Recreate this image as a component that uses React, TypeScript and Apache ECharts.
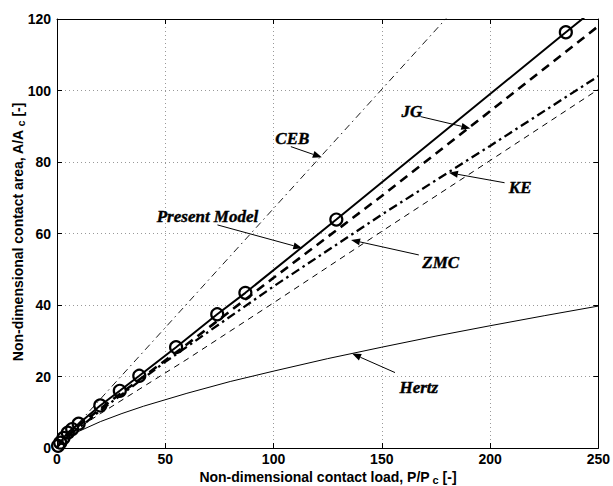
import React, { useEffect, useRef } from "react";
import * as echarts from "echarts";

// Axis ranges / ticks
const xMin = 0, xMax = 250, xStep = 50;
const yMin = 0, yMax = 120, yStep = 20;

// Present Model (markers)
const presentModelMarkers: number[][] = [
  [0.5, 0.6], [1.5, 1.5], [3, 2.8], [5, 4.3], [7, 5.3], [10, 6.8], [20, 11.9],
  [29, 16.0], [38, 20.2], [55, 28.2], [74, 37.4], [87, 43.4], [129, 63.9], [235, 116.3],
];
const presentModelLine: number[][] = [[0, 0], ...presentModelMarkers, [250, 123.6]];

// JG model
const jgLine: number[][] = [
  [0, 0], [0.5, 0.63], [1, 1], [5, 3.6], [10, 6.2], [20, 11], [40, 20], [60, 29],
  [80, 38.3], [100, 47.6], [150, 70.5], [200, 94.2], [250, 118],
];

// KE model
const keLine: number[][] = [
  [0, 0], [0.5, 0.63], [1.03, 0.93], [2.77, 2.04], [7.43, 4.49], [13.3, 7.1], [20, 10.5],
  [50, 24.1], [100, 45.2], [150, 65.3], [200, 84.5], [250, 104],
];

// ZMC model
const zmcLine: number[][] = [
  [0, 0], [0.5, 0.63], [1, 1], [5, 3.4], [10, 5.6], [20, 9.6], [40, 17.2], [60, 24.8],
  [100, 40.6], [150, 60.6], [200, 80.4], [250, 100.3],
];

// CEB model
const cebLine: number[][] = [[0, 0], [0.5, 0.63], [1, 1], [250, 167]];

// Hertz
const hertzLine: number[][] = [
  [0, 0], [0.5, 0.63], [1, 1], [2, 1.59], [3, 2.08], [5, 2.92], [10, 4.64], [20, 7.37],
  [30, 9.65], [40, 11.7], [60, 15.3], [80, 18.6], [100, 21.5], [125, 25], [150, 28.2],
  [175, 31.3], [200, 34.2], [225, 37], [250, 39.7],
];

// Annotations (data coordinates): label centre, arrow start, arrow tip
const annotations = [
  { label: "CEB", at: [108.7, 86.7], from: [108.0, 84.3], to: [122.3, 81.3] },
  { label: "JG", at: [163.9, 94.0], from: [167.9, 92.7], to: [190.9, 89.4] },
  { label: "KE", at: [213.9, 72.9], from: [206.7, 74.2], to: [181.0, 77.0] },
  { label: "Present Model", at: [69.5, 64.7], from: [74.1, 62.4], to: [113.3, 55.9] },
  { label: "ZMC", at: [177.2, 52.0], from: [167.1, 54.0], to: [135.8, 58.2] },
  { label: "Hertz", at: [167.1, 17.0], from: [156.1, 21.1], to: [136.3, 26.4] },
];

const xTitle = "Non-dimensional contact load, P/P";
const yTitle = "Non-dimensional contact area, A/A";
const subC = "c";
const unit = " [-]";

const SANS = "Liberation Sans, Arial, Helvetica, sans-serif";
const SERIF = "Liberation Serif, Times New Roman, serif";

export default function App() {
  const ref = useRef<HTMLDivElement>(null);
  useEffect(() => {
    const chart = echarts.init(ref.current!, null, { renderer: "svg" });
    const black = "#000";
    const axisLine = { show: true, onZero: false, lineStyle: { color: black, width: 1 } };
    const tick = { show: true, inside: true, length: 5, lineStyle: { color: black, width: 1 } };
    const label = { color: black, fontSize: 14, fontWeight: "bold", fontFamily: SANS };
    const split = { show: true, lineStyle: { color: "#999", width: 1, type: [1, 3] } };
    const lineSeries = (name: string, data: number[][], width: number, type: any) => ({
      name,
      type: "line",
      data,
      showSymbol: false,
      symbol: "none",
      clip: true,
      lineStyle: { color: black, width, type, cap: "butt" },
      z: 3,
    });
    chart.setOption({
      animation: false,
      backgroundColor: "#fff",
      grid: { left: 57, right: 13, top: 19, bottom: 38 },
      xAxis: [
        {
          type: "value", min: xMin, max: xMax, interval: xStep, position: "bottom",
          axisLine, axisTick: tick, axisLabel: { ...label, margin: 4 }, splitLine: split,
        },
        {
          type: "value", min: xMin, max: xMax, interval: xStep, position: "top",
          axisLine, axisTick: tick, axisLabel: { show: false }, splitLine: { show: false },
        },
      ],
      yAxis: [
        {
          type: "value", min: yMin, max: yMax, interval: yStep, position: "left",
          axisLine, axisTick: tick, axisLabel: { ...label, margin: 6 }, splitLine: split,
        },
        {
          type: "value", min: yMin, max: yMax, interval: yStep, position: "right",
          axisLine, axisTick: tick, axisLabel: { show: false }, splitLine: { show: false },
        },
      ],
      series: [
        lineSeries("Hertz", hertzLine, 1, "solid"),
        lineSeries("CEB", cebLine, 0.9, [7, 4, 1.5, 4]),
        lineSeries("ZMC", zmcLine, 1, [6, 5]),
        lineSeries("KE", keLine, 2.3, [9, 4, 2.5, 4]),
        lineSeries("JG", jgLine, 2.6, [9, 6]),
        lineSeries("Present Model", presentModelLine, 2, "solid"),
        {
          name: "Present Model markers",
          type: "scatter",
          data: presentModelMarkers,
          symbol: "circle",
          symbolSize: 12,
          itemStyle: { color: "rgba(0,0,0,0)", borderColor: black, borderWidth: 2.2, opacity: 1 },
          z: 4,
        },
      ],
    });

    const graphics: any[] = [];
    annotations.forEach((a) => {
      const p = chart.convertToPixel({ gridIndex: 0 }, a.at) as number[];
      const s = chart.convertToPixel({ gridIndex: 0 }, a.from) as number[];
      const t = chart.convertToPixel({ gridIndex: 0 }, a.to) as number[];
      graphics.push({
        type: "text", x: p[0], y: p[1], z: 10,
        style: {
          text: a.label, fill: black, font: `italic bold 17px ${SERIF}`,
          align: "center", verticalAlign: "middle",
          stroke: black, lineWidth: 0.4,
        },
      });
      const dx = t[0] - s[0], dy = t[1] - s[1];
      const len = Math.hypot(dx, dy);
      const ux = dx / len, uy = dy / len;
      const hl = 9, hw = 3.5;
      const bx = t[0] - ux * hl, by = t[1] - uy * hl;
      graphics.push({
        type: "line", z: 10,
        shape: { x1: s[0], y1: s[1], x2: bx, y2: by },
        style: { stroke: black, lineWidth: 1 },
      });
      graphics.push({
        type: "polygon", z: 10,
        shape: { points: [[t[0], t[1]], [bx - uy * hw, by + ux * hw], [bx + uy * hw, by - ux * hw]] },
        style: { fill: black },
      });
    });

    const rich = {
      a: { fontSize: 14, lineHeight: 15, fontWeight: "bold", fontFamily: SANS, color: black },
      s: { fontSize: 11, lineHeight: 12, fontWeight: "bold", fontFamily: SANS, color: black, padding: [6, 0, 0, 3] },
    };
    graphics.push({
      type: "text", x: 328, y: 477, z: 10,
      style: {
        text: `{a|${xTitle}}{s|${subC}}{a|${unit}}`,
        rich, align: "center", verticalAlign: "middle",
      },
    });
    graphics.push({
      type: "text", x: 18, y: 232, rotation: Math.PI / 2, z: 10,
      style: {
        text: `{a|${yTitle}}{s|${subC}}{a|${unit}}`,
        rich, align: "center", verticalAlign: "middle",
      },
    });
    chart.setOption({ graphic: graphics });

    return () => chart.dispose();
  }, []);
  return (
    <div
      ref={ref}
      style={{ position: "fixed", left: 0, top: 0, width: 613, height: 486, background: "#fff" }}
    />
  );
}
